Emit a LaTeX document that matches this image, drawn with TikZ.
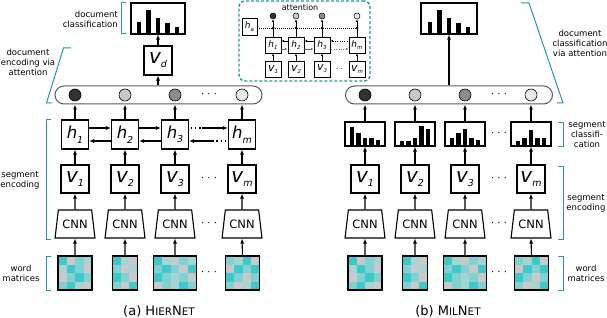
\documentclass[tikz,border=0pt]{standalone}
\usepackage{fontspec}
\setmainfont{DejaVu Sans}
\usetikzlibrary{arrows.meta,shapes.geometric,calc}
\definecolor{tealc}{RGB}{38,152,152}
\definecolor{celld}{RGB}{61,201,201}
\definecolor{cellm}{RGB}{128,210,210}
\definecolor{celll}{RGB}{166,212,212}
\definecolor{cellg}{RGB}{201,201,201}
\definecolor{dotA}{RGB}{50,50,50}
\definecolor{dotB}{RGB}{200,200,200}
\definecolor{dotC}{RGB}{140,140,140}
\definecolor{dotD}{RGB}{232,232,232}
\newcommand{\biglab}[2]{{\fontsize{16.5}{16.5}\selectfont\itshape #1}\raisebox{-4.5pt}{\fontsize{9.5}{9.5}\selectfont\itshape #2}}
\newcommand{\vlab}[2]{{\fontsize{20}{20}\selectfont\itshape #1}\raisebox{-4pt}{\fontsize{9.5}{9.5}\selectfont\itshape #2}}
\newcommand{\smlab}[2]{{\fontsize{9}{9}\selectfont\itshape #1}\raisebox{-2.5pt}{\fontsize{5.5}{5.5}\selectfont\itshape #2}}
\newcommand{\smvlab}[2]{{\fontsize{11}{11}\selectfont\itshape #1}\raisebox{-2pt}{\fontsize{5.5}{5.5}\selectfont\itshape #2}}
\newcommand{\wordmat}[4]{%
  \pgfmathsetmacro{\mxx}{#2-#3*4.25}
  \foreach \rowlist [count=\rr from 0] in {#4} {
    \foreach \cellc [count=\kk from 0] in \rowlist {
      \fill[cell\cellc] (\mxx+\kk*8.5, 256+\rr*8.5) rectangle +(8.5,8.5);
    }
  }
  \node[draw, line width=1.1pt, minimum width=#3*8.5pt, minimum height=34pt, inner sep=0pt] (#1) at (#2,273) {};
}
\tikzset{
  arr/.style={-{Latex[length=5pt,width=4pt]}, line width=1.1pt},
  sarr/.style={-{Latex[length=2.6pt,width=2.2pt]}, line width=0.6pt},
  box/.style={draw, line width=1.1pt, fill=white, minimum width=28pt, minimum height=28pt, inner sep=0pt},
  sbox/.style={draw, line width=0.8pt, fill=white, minimum width=16pt, minimum height=16pt, inner sep=0pt},
  cnnbox/.style={trapezium, draw, line width=1.1pt, fill=white, trapezium stretches=true,
    trapezium left angle=74, trapezium right angle=74, minimum width=40pt, minimum height=28pt,
    inner sep=0pt, font=\fontsize{11.5}{11.5}\selectfont},
  barbox/.style={draw=black!65, line width=1pt, fill=white, rounded corners=9pt,
    minimum width=207pt, minimum height=18pt, inner sep=0pt},
  dotnode/.style={circle, draw, line width=0.6pt, minimum size=12pt, inner sep=0pt},
  sdot/.style={circle, draw, line width=0.5pt, minimum size=6pt, inner sep=0pt},
  brk/.style={draw=tealc, line width=1pt},
  lbl/.style={font=\fontsize{8.5}{10}\selectfont, align=center, inner sep=0pt},
  dotsl/.style={font=\fontsize{10}{10}\selectfont, inner sep=0pt},
  dotted2/.style={line width=1.1pt, dash pattern=on 1.2pt off 3pt},
  sdotted/.style={line width=0.6pt, dash pattern=on 0.8pt off 1.6pt},
}
\begin{document}
\begin{tikzpicture}[x=1pt,y=-1pt]
\useasboundingbox (0,0) rectangle (607,318);

% ================= left: HierNet =================
\node[barbox] (barL) at (158.5,95) {};
\foreach \x/\ii/\cl in {75/1/dotA,125/2/dotB,175/3/dotC,242/m/dotD} {
  \node[box, minimum width=27pt, minimum height=29pt] (h\ii) at (\x,134.5) {\biglab{h}{\ii}};
  \node[box] (v\ii) at (\x,179) {\vlab{v}{\ii}};
  \node[cnnbox] (cnn\ii) at (\x,224) {CNN};
  \node[dotnode, fill=\cl] (ca\ii) at (\x,95) {};
  \draw[arr] (cnn\ii.north) -- (v\ii.south);
  \draw[arr] (v\ii.north) -- (h\ii.south);
  \draw[arr] (h\ii.north) -- (h\ii.north |- barL.south);
}
\wordmat{m1}{75}{4}{{d,g,m,l},{l,d,m,g},{g,m,d,m},{m,d,l,g}}
\wordmat{m2}{125}{3}{{d,l,g},{m,g,l},{d,m,g},{m,g,d}}
\wordmat{m3}{175}{5}{{d,l,g,m,l},{m,d,m,g,d},{d,m,l,m,g},{g,m,l,d,m}}
\wordmat{mm}{242.5}{4}{{m,l,d,g},{g,d,m,d},{d,m,g,m},{m,g,l,d}}
\foreach \ii in {1,2,3,m} { \draw[arr] (m\ii.north) -- (cnn\ii.south); }

% recurrent arrows
\foreach \a/\b in {1/2,2/3} {
  \draw[arr] ($(h\a.east)+(0,-6.5)$) -- ($(h\b.west)+(0,-6.5)$);
  \draw[arr] ($(h\b.west)+(0,6.5)$) -- ($(h\a.east)+(0,6.5)$);
}
\coordinate (hu) at ($(h3.east)+(13,-6.5)$);
\draw[dotted2] ($(h3.east)+(2,-6.5)$) -- (hu);
\draw[arr] (hu) -- ($(hm.west)+(0,-6.5)$);
\coordinate (hl) at ($(hm.west)+(-14,6.5)$);
\draw[dotted2] ($(hm.west)+(-2,6.5)$) -- (hl);
\draw[arr] (hl) -- ($(h3.east)+(0,6.5)$);

\node[box, minimum height=29pt] (vd) at (158,60.5) {\vlab{v}{d}};
\node[box, minimum width=54pt, minimum height=31pt] (docL) at (158,18.5) {};
\foreach \kk/\hh in {0/11,1/23,2/15,3/10,4/6} {
  \fill (139+\kk*9.5-2.25,33.5) rectangle +(4.5,-\hh);
}
\draw[arr] (barL.north -| vd) -- (vd.south);
\draw[arr] (vd.north) -- (docL.south);

\node[dotsl] (dl1) at (209,95) {· · ·};
\node[dotsl] (dl2) at (209,179) {· · ·};
\node[dotsl] (dl3) at (209,224) {· · ·};
\node[dotsl] (dl4) at (209,273) {· · ·};

% left brackets and labels
\draw[brk] (126,3) -- (121,3) -- (121,34) -- (126,34);
\node[lbl, anchor=east, align=right] (tdocL) at (118,19) {document\\classification};
\draw[brk] (71,48) -- (63.5,48) -- (46.5,103) -- (52,103);
\node[lbl] (tencL) at (28,62) {document\\encoding via\\attention};
\draw[brk] (51,120) -- (46,120) -- (46,239) -- (51,239);
\node[lbl] (tsegL) at (20,180) {segment\\encoding};
\draw[brk] (51,256) -- (46,256) -- (46,290) -- (51,290);
\node[lbl] (twordL) at (21,273) {word\\matrices};

\node[font=\fontsize{13}{13}\selectfont, inner sep=0pt] (capA) at (159,311)
  {(a) H{\fontsize{10.4}{10.4}\selectfont IER}N{\fontsize{10.4}{10.4}\selectfont ET}};

% ================= attention inset =================
\node[draw=tealc, line width=1.4pt, dash pattern=on 3pt off 2pt, rounded corners=6pt,
  minimum width=131pt, minimum height=80pt, inner sep=0pt] (inset) at (304.5,41) {};
\node[font=\fontsize{8}{8}\selectfont, inner sep=0pt] (attn) at (300,8) {attention};
\node[sbox, minimum width=15pt, minimum height=17pt] (ha) at (249.5,26.5) {\smlab{h}{a}};
\foreach \x/\ii/\cl in {273/1/dotA,296/2/dotB,322/3/dotC,357/m/dotD} {
  \node[sbox] (ih\ii) at (\x,45) {\smlab{h}{\ii}};
  \node[sbox] (iv\ii) at (\x,69) {\smvlab{v}{\ii}};
  \node[sdot, fill=\cl] (ic\ii) at (\x,16) {};
  \coordinate (j\ii) at (\x,28);
}
\draw[line width=0.6pt, dash pattern=on 0.8pt off 1.2pt] (ha.east |- j1) -- (jm);
\foreach \ii in {1,2,3,m} {
  \draw[sarr] (iv\ii.north) -- (ih\ii.south);
  \draw[line width=0.6pt] (ih\ii.north) -- (j\ii);
  \draw[sarr] (j\ii) -- (ic\ii.south);
  \fill (j\ii) circle (1.5pt);
}
\foreach \a/\b in {1/2,2/3} {
  \draw[sarr] ($(ih\b.west)+(0,-4)$) -- ($(ih\a.east)+(0,-4)$);
  \draw[sarr, black!60] ($(ih\a.east)+(0,4)$) -- ($(ih\b.west)+(0,4)$);
}
\draw[sarr, sdotted] ($(ihm.west)+(-1,-4)$) -- ($(ih3.east)+(0,-4)$);
\draw[sarr, sdotted, black!55] ($(ih3.east)+(1,4)$) -- ($(ihm.west)+(0,4)$);
\node[font=\fontsize{7}{7}\selectfont, inner sep=0pt] (idots) at (339.5,70) {· ·};

% ================= right: MilNet =================
\node[barbox] (barR) at (449,95) {};
\foreach \x/\ii/\cl/\hs in {365/1/dotA/{18,12,7,7,5},415/2/dotB/{4,4,7,19,16},465/3/dotC/{7,12,16,7,5},531/m/dotD/{4,7,15,7,7}} {
  \node[box, minimum width=40pt, minimum height=24pt] (sc\ii) at (\x,134) {};
  \foreach \hh [count=\kk from 0] in \hs {
    \fill (\x+\kk*6.6-15.4,145.4) rectangle +(4.4,-\hh);
  }
  \node[box] (pv\ii) at (\x,179) {\vlab{v}{\ii}};
  \node[cnnbox] (pcnn\ii) at (\x,224) {CNN};
  \node[dotnode, fill=\cl] (pc\ii) at (\x,95) {};
  \draw[arr] (pcnn\ii.north) -- (pv\ii.south);
  \draw[arr] (pv\ii.north) -- (sc\ii.south);
  \draw[arr] (sc\ii.north) -- (sc\ii.north |- barR.south);
}
\wordmat{pm1}{365}{4}{{d,g,m,l},{l,d,m,g},{g,m,d,m},{m,d,l,g}}
\wordmat{pm2}{415}{3}{{d,l,g},{m,g,l},{d,m,g},{m,g,d}}
\wordmat{pm3}{465}{5}{{d,l,g,m,l},{m,d,m,g,d},{d,m,l,m,g},{g,m,l,d,m}}
\wordmat{pmm}{531.5}{4}{{m,l,d,g},{g,d,m,d},{d,m,g,m},{m,g,l,d}}
\foreach \ii in {1,2,3,m} { \draw[arr] (pm\ii.north) -- (pcnn\ii.south); }

\node[box, minimum width=56pt, minimum height=31pt] (docR) at (449,18.5) {};
\foreach \kk/\hh in {0/11,1/23,2/15,3/10,4/6} {
  \fill (430+\kk*9.5-2.25,33.5) rectangle +(4.5,-\hh);
}
\draw[arr] (barR.north -| docR) -- (docR.south);

\node[dotsl] (dr1) at (499,95) {· · ·};
\node[dotsl] (dr2) at (499,134) {· · ·};
\node[dotsl] (dr3) at (499,179) {· · ·};
\node[dotsl] (dr4) at (499,224) {· · ·};
\node[dotsl] (dr5) at (499,273) {· · ·};

% right brackets and labels
\draw[brk] (521,3) -- (529,3) -- (563,103) -- (557,103);
\node[lbl] (tdocR) at (580,43) {document\\classification\\via attention};
\draw[brk] (558,122) -- (563,122) -- (563,146) -- (558,146);
\node[lbl] (tsegcR) at (587,135) {segment\\classifi-\\cation};
\draw[brk] (558,166) -- (563,166) -- (563,239) -- (558,239);
\node[lbl] (tsegR) at (586,203) {segment\\encoding};
\draw[brk] (558,256) -- (563,256) -- (563,290) -- (558,290);
\node[lbl] (twordR) at (586,273) {word\\matrices};

\node[font=\fontsize{13}{13}\selectfont, inner sep=0pt] (capB) at (448,311)
  {(b) M{\fontsize{10.4}{10.4}\selectfont IL}N{\fontsize{10.4}{10.4}\selectfont ET}};
\end{tikzpicture}
\end{document}
